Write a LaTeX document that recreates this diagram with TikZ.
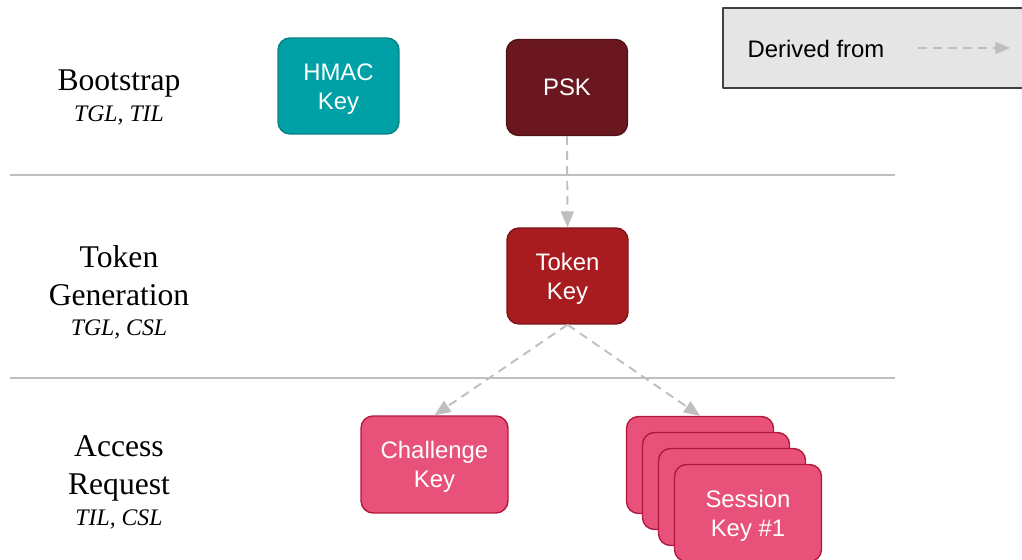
\documentclass[tikz,border=0pt]{standalone}
\usepackage{fontspec}
\setmainfont{Liberation Serif}
\setsansfont{Liberation Sans}
\usepackage{tikz}
\usetikzlibrary{calc}
\usetikzlibrary{arrows}
\newcommand{\keytop}{\rule{0pt}{12.8pt}}
\definecolor{qqaaaa}{rgb}{0.,0.63,0.65}
\definecolor{qqtttt}{rgb}{0.03,0.50,0.51}
\definecolor{ttqqqq}{rgb}{0.42,0.09,0.12}
\definecolor{zzqqqq}{rgb}{0.30,0.07,0.09}
\definecolor{ccqqqq}{rgb}{0.66,0.11,0.12}
\definecolor{aaqqqq}{rgb}{0.48,0.08,0.09}
\definecolor{ffttdd}{rgb}{0.91,0.32,0.48}
\definecolor{ddqqtt}{rgb}{0.70,0.09,0.23}
\definecolor{cccccc}{rgb}{0.75,0.75,0.75}
\definecolor{eeeeee}{rgb}{0.90,0.90,0.90}
\definecolor{ssssss}{rgb}{0.25,0.25,0.25}
\tikzstyle{every node}=[font={\sffamily\fontsize{13.6}{16.4}\selectfont}]
\tikzstyle{keybox}=[rectangle,rounded corners=0.24cm,line width=0.8pt,minimum width=2.42cm,minimum height=1.92cm,align=center,text=white]
\tikzstyle{wide}=[minimum width=2.94cm,minimum height=1.94cm]
\tikzstyle{derived}=[->,dash pattern=on 5pt off 3.5pt,line width=1.1pt,color=cccccc]
\tikzstyle{phase}=[font={\fontsize{18}{21.6}\selectfont},align=center]
\tikzstyle{layer}=[font={\itshape\fontsize{13.5}{16}\selectfont}]

\begin{document}
\begin{tikzpicture}[line cap=butt,line join=round,>=triangle 45,x=0.02cm,y=-0.02cm]
            \clip(0,0) rectangle (1022,560);
            % legend
            \draw[line width=1pt,color=ssssss,fill=eeeeee] (723,8) rectangle (1040,88);
            \node (legend) at (816,49) {Derived from};
            \coordinate (legA) at (918,48);
            \coordinate (legB) at (1010,48);
            \draw[derived,line width=0.9pt] (legA) -- (legB);
            % phases
            \draw[color=cccccc,line width=0.6pt] (10,175) -- (895,175);
            \draw[color=cccccc,line width=0.6pt] (10,378) -- (895,378);
            \node[phase] (boot) at (119,84) {Bootstrap};
            \node[layer] (bootl) at (119,115) {TGL, TIL};
            \node[phase] (tokgen) at (119,276) {Token\\Generation};
            \node[layer] (tokgenl) at (119,329) {TGL, CSL};
            \node[phase] (access) at (119,468) {Access\\Request};
            \node[layer] (accessl) at (119,519) {TIL, CSL};
            % keys
            \node[keybox,fill=qqaaaa,draw=qqtttt] (hmac) at (338.5,86) {\keytop HMAC\\Key};
            \node[keybox,fill=ttqqqq,draw=zzqqqq] (psk) at (567,87.5) {PSK};
            \node[keybox,fill=ccqqqq,draw=aaqqqq] (token) at (567.5,276) {\keytop Token\\Key};
            \node[keybox,wide,fill=ffttdd,draw=ddqqtt] (chal) at (434.5,464.5) {\keytop Challenge\\Key};
            \foreach \i in {0,1,2}
                \node[keybox,wide,fill=ffttdd,draw=ddqqtt] (sess\i) at (700+16*\i,465+16*\i) {};
            \node[keybox,wide,fill=ffttdd,draw=ddqqtt] (sess3) at (748,513) {\keytop Session\\Key \#1};
            % derivations
            \draw[derived] (psk.south) -- (token.north);
            \draw[derived] (token.south) -- (chal.north);
            \draw[derived] (token.south) -- (sess0.north);
        \end{tikzpicture}
\end{document}
